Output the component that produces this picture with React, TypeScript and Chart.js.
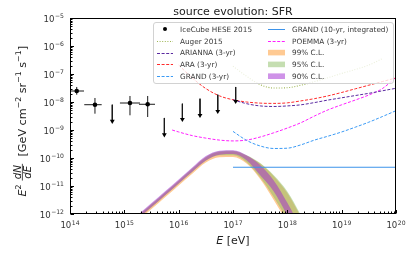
import { useEffect, useRef } from 'react';
import { Chart, registerables } from 'chart.js';

Chart.register(...registerables);

// ---------------- data ----------------
const TITLE = 'source evolution: SFR';
const X_TICK_EXPONENTS = [14, 15, 16, 17, 18, 19, 20];
const Y_TICK_EXPONENTS = [-12, -11, -10, -9, -8, -7, -6, -5];

// IceCube HESE 2015, measured points (E in eV, flux in GeV cm^-2 sr^-1 s^-1)
const heseE = [1.33e14, 2.88e14, 1.27e15, 2.69e15];
const heseELo = [1.04e14, 1.83e14, 8.3e14, 1.86e15];
const heseEHi = [1.81e14, 3.83e14, 1.94e15, 3.67e15];
const heseFlux = [2.47e-8, 8.0e-9, 9.2e-9, 8.3e-9];
const heseFluxLo = [1.82e-8, 3.82e-9, 3.35e-9, 2.91e-9];
const heseFluxHi = [3.44e-8, 1.39e-8, 1.64e-8, 1.64e-8];
// IceCube HESE 2015, upper limits
const heseUlE = [6.0e14, 5.45e15, 1.17e16, 2.47e16, 5.24e16, 1.12e17];
const heseUlTop = [8.0e-9, 2.69e-9, 8.7e-9, 1.31e-8, 1.82e-8, 3.44e-8];
const heseUlTip = [2.05e-9, 6.8e-10, 2.41e-9, 3.35e-9, 4.66e-9, 1.06e-8];

// sensitivity curves (log10 E [eV], log10 flux)
const augerLogE = [17.0, 17.25, 17.5, 17.75, 18.0, 18.25, 18.5, 18.75, 19.0, 19.25, 19.5, 19.75];
const augerLogF = [-6.72, -7.08, -7.38, -7.5, -7.49, -7.4, -7.27, -7.13, -6.98, -6.84, -6.68, -6.45];

const ariannaLogE = [17.0, 17.25, 17.5, 17.75, 18.0, 18.25, 18.5, 18.75, 19.0, 19.25, 19.5, 19.75, 20.0];
const ariannaLogF = [-7.92, -8.06, -8.14, -8.16, -8.14, -8.1, -8.02, -7.93, -7.85, -7.77, -7.69, -7.6, -7.51];

const araLogE = [16.0, 16.25, 16.5, 16.75, 17.0, 17.25, 17.5, 17.75, 18.0, 18.25, 18.5, 18.75, 19.0, 19.25, 19.5, 19.75, 20.0];
const araLogF = [-6.68, -7.14, -7.52, -7.78, -7.92, -8.0, -8.04, -8.05, -8.03, -7.96, -7.88, -7.78, -7.66, -7.53, -7.4, -7.27, -7.14];

const grand3LogE = [17.0, 17.25, 17.5, 17.75, 18.0, 18.25, 18.5, 18.75, 19.0, 19.25, 19.5, 19.75, 20.0];
const grand3LogF = [-9.05, -9.37, -9.57, -9.66, -9.65, -9.53, -9.36, -9.22, -9.07, -8.9, -8.72, -8.52, -8.31];

const grand10LogE = [17.0, 20.0];
const grand10LogF = [-10.33, -10.33];

const poemmaLogE = [15.88, 16.0, 16.25, 16.5, 16.75, 17.0, 17.25, 17.5, 17.75, 18.0, 18.25, 18.5, 18.75, 19.0, 19.25, 19.5, 19.75, 20.0];
const poemmaLogF = [-9.0, -9.07, -9.2, -9.29, -9.36, -9.39, -9.36, -9.25, -9.1, -8.93, -8.74, -8.5, -8.28, -8.1, -7.93, -7.75, -7.52, -7.12];

// fitted flux bands (log10 E [eV], log10 flux)
const bandLogE = [15.0, 15.25, 15.5, 15.75, 16.0, 16.25, 16.5, 16.75, 17.0, 17.25, 17.5, 17.75, 18.0, 18.25, 18.5];
const cl99Upper = [-12.5, -12.08, -11.66, -11.24, -10.82, -10.39, -9.98, -9.79, -9.77, -9.92, -10.2, -10.65, -11.25, -12.1, -13.0];
const cl99Lower = [-12.66, -12.24, -11.82, -11.4, -10.98, -10.56, -10.16, -9.97, -9.96, -10.2, -10.75, -11.5, -12.3, -13.1, -14.0];
const cl95Upper = [-12.48, -12.06, -11.64, -11.22, -10.8, -10.37, -9.96, -9.76, -9.74, -9.9, -10.18, -10.62, -11.2, -12.05, -13.0];
const cl95Lower = [-12.6, -12.18, -11.76, -11.34, -10.92, -10.5, -10.1, -9.9, -9.9, -10.15, -10.7, -11.4, -12.2, -13.0, -14.0];
const cl90Upper = [-12.45, -12.03, -11.61, -11.19, -10.77, -10.34, -9.93, -9.74, -9.72, -9.9, -10.25, -10.8, -11.6, -12.5, -13.4];
const cl90Lower = [-12.6, -12.17, -11.75, -11.33, -10.91, -10.49, -10.09, -9.88, -9.86, -10.08, -10.62, -11.2, -12.05, -12.9, -13.8];

const LABELS = {
  hese: 'IceCube HESE 2015',
  auger: 'Auger 2015',
  arianna: 'ARIANNA (3-yr)',
  ara: 'ARA (3-yr)',
  grand3: 'GRAND (3-yr)',
  grand10: 'GRAND (10-yr, integrated)',
  poemma: 'POEMMA (3-yr)',
  cl99: '99% C.L.',
  cl95: '95% C.L.',
  cl90: '90% C.L.',
};

// ---------------- styles ----------------
const C = {
  auger: '#9db552',
  arianna: '#5a2aa0',
  ara: '#ff2b2b',
  grand3: '#3a9af5',
  grand10: '#3c93ea',
  poemma: '#ff1fff',
  cl99: 'rgba(255,150,40,0.5)',
  cl95: 'rgba(140,190,100,0.5)',
  cl90: 'rgba(160,40,210,0.5)',
};
const DASH = [3, 1.6];
const DOT = [1, 1.6];
const SANS = '"DejaVu Sans", sans-serif';

const toPts = (le: number[], lf: number[]) => le.map((e, i) => ({ x: Math.pow(10, e), y: Math.pow(10, lf[i]) }));

function lineDs(label: string, le: number[], lf: number[], color: string, dash: number[], width = 1) {
  return {
    type: 'line', label, data: toPts(le, lf), borderColor: color, borderWidth: width, borderDash: dash,
    pointRadius: 0, fill: false, cubicInterpolationMode: 'monotone', order: 2,
  };
}

function bandDs(label: string, up: number[], lo: number[], color: string, order: number) {
  return [
    { type: 'line', label: label + ' upper', data: toPts(bandLogE, up), borderWidth: 0, pointRadius: 0, fill: false, cubicInterpolationMode: 'monotone', order, borderColor: 'rgba(0,0,0,0)' },
    { type: 'line', label, data: toPts(bandLogE, lo), borderWidth: 0, pointRadius: 0, fill: '-1', backgroundColor: color, cubicInterpolationMode: 'monotone', order, borderColor: 'rgba(0,0,0,0)' },
  ];
}

const TICK_F = 8.6;
const TICK_S = 6.1;

function drawPow(ctx: CanvasRenderingContext2D, exp: number, x: number, y: number, align: 'center' | 'right') {
  const base = '10';
  const sup = exp < 0 ? '\u2212' + Math.abs(exp) : String(exp);
  ctx.font = `${TICK_F}px ${SANS}`;
  const wb = ctx.measureText(base).width;
  ctx.font = `${TICK_S}px ${SANS}`;
  const ws = ctx.measureText(sup).width;
  const total = wb + ws + 0.5;
  const start = align === 'center' ? x - total / 2 : x - total;
  ctx.textAlign = 'left';
  ctx.textBaseline = 'alphabetic';
  ctx.font = `${TICK_F}px ${SANS}`;
  ctx.fillText(base, start, y);
  ctx.font = `${TICK_S}px ${SANS}`;
  ctx.fillText(sup, start + wb + 0.5, y - 3.6);
}

function yLabelLayout(ctx: CanvasRenderingContext2D, F: number, draw: boolean, u0: number, base: number) {
  const S = F * 0.7;
  const sup = F * 0.42;
  const spans: any[] = [
    { t: 'E', f: `oblique ${F}px ${SANS}`, dy: 0 },
    { t: '2', f: `${S}px ${SANS}`, dy: -sup },
    { gap: F * 0.35 },
    { frac: ['dN', 'dE'], f: `oblique ${F * 0.92}px ${SANS}` },
    { gap: F * 0.65 },
    { t: '[GeV cm', f: `${F}px ${SANS}`, dy: 0 },
    { t: '\u22122', f: `${S}px ${SANS}`, dy: -sup },
    { t: ' sr', f: `${F}px ${SANS}`, dy: 0 },
    { t: '\u22121', f: `${S}px ${SANS}`, dy: -sup },
    { t: ' s', f: `${F}px ${SANS}`, dy: 0 },
    { t: '\u22121', f: `${S}px ${SANS}`, dy: -sup },
    { t: ']', f: `${F}px ${SANS}`, dy: 0 },
  ];
  let u = u0;
  for (const s of spans) {
    if (s.gap) { u += s.gap; continue; }
    ctx.font = s.f;
    if (s.frac) {
      const wn = ctx.measureText(s.frac[0]).width;
      const wd = ctx.measureText(s.frac[1]).width;
      const w = Math.max(wn, wd) + 2.5;
      if (draw) {
        const bar = base - F * 0.33;
        ctx.fillText(s.frac[0], u + (w - wn) / 2, bar - 1.6);
        ctx.fillText(s.frac[1], u + (w - wd) / 2, bar + F * 0.92 * 0.73 + 1.6);
        ctx.fillRect(u, bar - 0.4, w, 0.8);
      }
      u += w;
      continue;
    }
    if (draw) ctx.fillText(s.t, u, base + s.dy);
    u += ctx.measureText(s.t).width;
  }
  return u - u0;
}

function drawYLabel(ctx: CanvasRenderingContext2D) {
  ctx.save();
  const topY = 46; // screen y where the label ends
  ctx.translate(0, topY);
  ctx.rotate(-Math.PI / 2);
  ctx.fillStyle = '#222';
  ctx.textAlign = 'left';
  ctx.textBaseline = 'alphabetic';
  const F = 11.2;
  const w = yLabelLayout(ctx, F, false, 0, 0);
  yLabelLayout(ctx, F, true, -w, 26);
  ctx.restore();
}

function drawLegend(ctx: CanvasRenderingContext2D) {
  const bx = 153.5, by = 22.5, bw = 240, bh = 61;
  ctx.save();
  ctx.beginPath();
  if ((ctx as any).roundRect) (ctx as any).roundRect(bx, by, bw, bh, 2.5); else ctx.rect(bx, by, bw, bh);
  ctx.fillStyle = 'rgba(255,255,255,0.8)';
  ctx.fill();
  ctx.strokeStyle = '#d2d2d2';
  ctx.lineWidth = 1;
  ctx.stroke();

  const rows = [29, 40.8, 52.6, 64.4, 76.2];
  const col = [{ h0: 157, h1: 173, tx: 180 }, { h0: 268, h1: 285, tx: 292 }];
  const items: any[] = [
    { c: 0, r: 0, label: LABELS.hese, kind: 'dot' },
    { c: 0, r: 1, label: LABELS.auger, kind: 'line', color: C.auger, dash: DOT },
    { c: 0, r: 2, label: LABELS.arianna, kind: 'line', color: C.arianna, dash: DASH },
    { c: 0, r: 3, label: LABELS.ara, kind: 'line', color: C.ara, dash: DASH },
    { c: 0, r: 4, label: LABELS.grand3, kind: 'line', color: C.grand3, dash: DASH },
    { c: 1, r: 0, label: LABELS.grand10, kind: 'line', color: C.grand10, dash: [] },
    { c: 1, r: 1, label: LABELS.poemma, kind: 'line', color: C.poemma, dash: DASH },
    { c: 1, r: 2, label: LABELS.cl99, kind: 'patch', color: C.cl99 },
    { c: 1, r: 3, label: LABELS.cl95, kind: 'patch', color: C.cl95 },
    { c: 1, r: 4, label: LABELS.cl90, kind: 'patch', color: C.cl90 },
  ];
  for (const it of items) {
    const cc = col[it.c];
    const y = rows[it.r];
    if (it.kind === 'dot') {
      ctx.fillStyle = '#000';
      ctx.beginPath();
      ctx.arc((cc.h0 + cc.h1) / 2, y, 2, 0, Math.PI * 2);
      ctx.fill();
    } else if (it.kind === 'line') {
      ctx.strokeStyle = it.color;
      ctx.lineWidth = 1;
      ctx.setLineDash(it.dash);
      ctx.beginPath();
      ctx.moveTo(cc.h0, Math.round(y) + 0.5);
      ctx.lineTo(cc.h1, Math.round(y) + 0.5);
      ctx.stroke();
      ctx.setLineDash([]);
    } else {
      ctx.fillStyle = it.color;
      ctx.fillRect(cc.h0, y - 2.8, cc.h1 - cc.h0, 5.6);
    }
    ctx.fillStyle = '#3a3a3a';
    ctx.font = `7.3px ${SANS}`;
    ctx.textAlign = 'left';
    ctx.textBaseline = 'alphabetic';
    ctx.fillText(it.label, cc.tx, y + 2.7);
  }
  ctx.restore();
}

const decorPlugin = {
  id: 'decor',
  afterDraw(chart: any) {
    const { ctx, chartArea: a, scales } = chart;
    const xs = scales.x, ys = scales.y;
    ctx.save();
    drawLegend(ctx);

    const L = Math.round(a.left) + 0.5, R = Math.round(a.right) - 0.5;
    const T = Math.round(a.top) + 0.5, B = Math.round(a.bottom) - 0.5;
    ctx.strokeStyle = '#000';
    ctx.lineWidth = 1;
    ctx.setLineDash([]);
    ctx.strokeRect(L, T, R - L, B - T);

    // inward ticks
    ctx.beginPath();
    const xMin = X_TICK_EXPONENTS[0], xMax = X_TICK_EXPONENTS[X_TICK_EXPONENTS.length - 1];
    for (let e = xMin; e <= xMax; e++) {
      for (let m = 1; m <= 9; m++) {
        if (e === xMax && m > 1) break;
        const v = m * Math.pow(10, e);
        const px = Math.round(xs.getPixelForValue(v)) + 0.5;
        const len = m === 1 ? 3.5 : 2;
        ctx.moveTo(px, B);
        ctx.lineTo(px, B - len);
      }
    }
    const yMin = Y_TICK_EXPONENTS[0], yMax = Y_TICK_EXPONENTS[Y_TICK_EXPONENTS.length - 1];
    for (let e = yMin; e <= yMax; e++) {
      for (let m = 1; m <= 9; m++) {
        if (e === yMax && m > 1) break;
        const v = m * Math.pow(10, e);
        const py = Math.round(ys.getPixelForValue(v)) + 0.5;
        const len = m === 1 ? 3.5 : 2;
        ctx.moveTo(L, py);
        ctx.lineTo(L + len, py);
      }
    }
    ctx.stroke();

    // tick labels
    ctx.fillStyle = '#333';
    for (const e of X_TICK_EXPONENTS) {
      drawPow(ctx, e, xs.getPixelForValue(Math.pow(10, e)), 228.3, 'center');
    }
    for (const e of Y_TICK_EXPONENTS) {
      drawPow(ctx, e, 64, ys.getPixelForValue(Math.pow(10, e)) + 4, 'right');
    }

    // title
    ctx.fillStyle = '#222';
    ctx.font = `11px ${SANS}`;
    ctx.textAlign = 'center';
    ctx.textBaseline = 'alphabetic';
    ctx.fillText(TITLE, (a.left + a.right) / 2, 15);

    // x label
    ctx.font = `oblique 11px ${SANS}`;
    const wE = ctx.measureText('E').width;
    ctx.font = `11px ${SANS}`;
    const wR = ctx.measureText(' [eV]').width;
    const x0 = (a.left + a.right) / 2 - (wE + wR) / 2;
    ctx.textAlign = 'left';
    ctx.font = `oblique 11px ${SANS}`;
    ctx.fillText('E', x0, 243.5);
    ctx.font = `11px ${SANS}`;
    ctx.fillText(' [eV]', x0 + wE, 243.5);

    drawYLabel(ctx);
    ctx.restore();
  },
};

export default function App() {
  const ref = useRef<HTMLCanvasElement | null>(null);

  useEffect(() => {
    if (!ref.current) return;

    const xErr: any[] = [];
    const yErr: any[] = [];
    heseE.forEach((e, i) => {
      xErr.push({ x: heseELo[i], y: heseFlux[i] }, { x: heseEHi[i], y: heseFlux[i] }, { x: heseEHi[i], y: null });
      yErr.push({ x: e, y: heseFluxLo[i] }, { x: e, y: heseFluxHi[i] }, { x: e, y: null });
    });
    const ulLines: any[] = [];
    heseUlE.forEach((e, i) => {
      ulLines.push({ x: e, y: heseUlTop[i] }, { x: e, y: heseUlTip[i] }, { x: e, y: null });
    });

    const datasets: any[] = [
      { type: 'line', label: LABELS.hese, data: heseE.map((e, i) => ({ x: e, y: heseFlux[i] })), showLine: false, pointRadius: 2.3, pointBackgroundColor: '#000', pointBorderWidth: 0, order: 0 },
      { type: 'line', label: 'hese x err', data: xErr, borderColor: '#1a1a1a', borderWidth: 1, pointRadius: 0, spanGaps: false, order: 1 },
      { type: 'line', label: 'hese y err', data: yErr, borderColor: '#1a1a1a', borderWidth: 1, pointRadius: 0, spanGaps: false, order: 1 },
      { type: 'line', label: 'hese upper limits', data: ulLines, borderColor: '#1a1a1a', borderWidth: 1, pointRadius: 0, spanGaps: false, order: 1 },
      { type: 'line', label: 'hese limit heads', data: heseUlE.map((e, i) => ({ x: e, y: heseUlTip[i] })), showLine: false, pointStyle: 'triangle', rotation: 180, pointRadius: 2.8, pointBackgroundColor: '#000', pointBorderWidth: 0, order: 0 },
      lineDs(LABELS.auger, augerLogE, augerLogF, C.auger, DOT, 1.1),
      lineDs(LABELS.arianna, ariannaLogE, ariannaLogF, C.arianna, DASH),
      lineDs(LABELS.ara, araLogE, araLogF, C.ara, DASH),
      lineDs(LABELS.grand3, grand3LogE, grand3LogF, C.grand3, DASH),
      lineDs(LABELS.grand10, grand10LogE, grand10LogF, C.grand10, [], 1.1),
      lineDs(LABELS.poemma, poemmaLogE, poemmaLogF, C.poemma, DASH),
      ...bandDs(LABELS.cl99, cl99Upper, cl99Lower, C.cl99, 12),
      ...bandDs(LABELS.cl95, cl95Upper, cl95Lower, C.cl95, 11),
      ...bandDs(LABELS.cl90, cl90Upper, cl90Lower, C.cl90, 10),
    ];

    const chart = new Chart(ref.current, {
      type: 'line',
      data: { datasets },
      options: {
        animation: false,
        responsive: false,
        devicePixelRatio: 1,
        events: [],
        layout: { padding: { left: 0, right: 15, top: 18, bottom: 0 } },
        plugins: { legend: { display: false }, title: { display: false }, tooltip: { enabled: false } },
        scales: {
          x: {
            type: 'logarithmic', min: 1e14, max: 1e20,
            grid: { display: false, drawTicks: false }, border: { display: false },
            ticks: { display: false },
            afterFit: (s: any) => { s.height = 39; },
          },
          y: {
            type: 'logarithmic', min: 1e-12, max: 1e-5,
            grid: { display: false, drawTicks: false }, border: { display: false },
            ticks: { display: false },
            afterFit: (s: any) => { s.width = 70; },
          },
        },
      } as any,
      plugins: [decorPlugin],
    } as any);

    return () => chart.destroy();
  }, []);

  return (
    <div style={{ position: 'fixed', left: 0, top: 0, width: 411, height: 253, background: '#fff' }}>
      <canvas ref={ref} width={411} height={253} style={{ width: 411, height: 253, display: 'block' }} />
    </div>
  );
}
